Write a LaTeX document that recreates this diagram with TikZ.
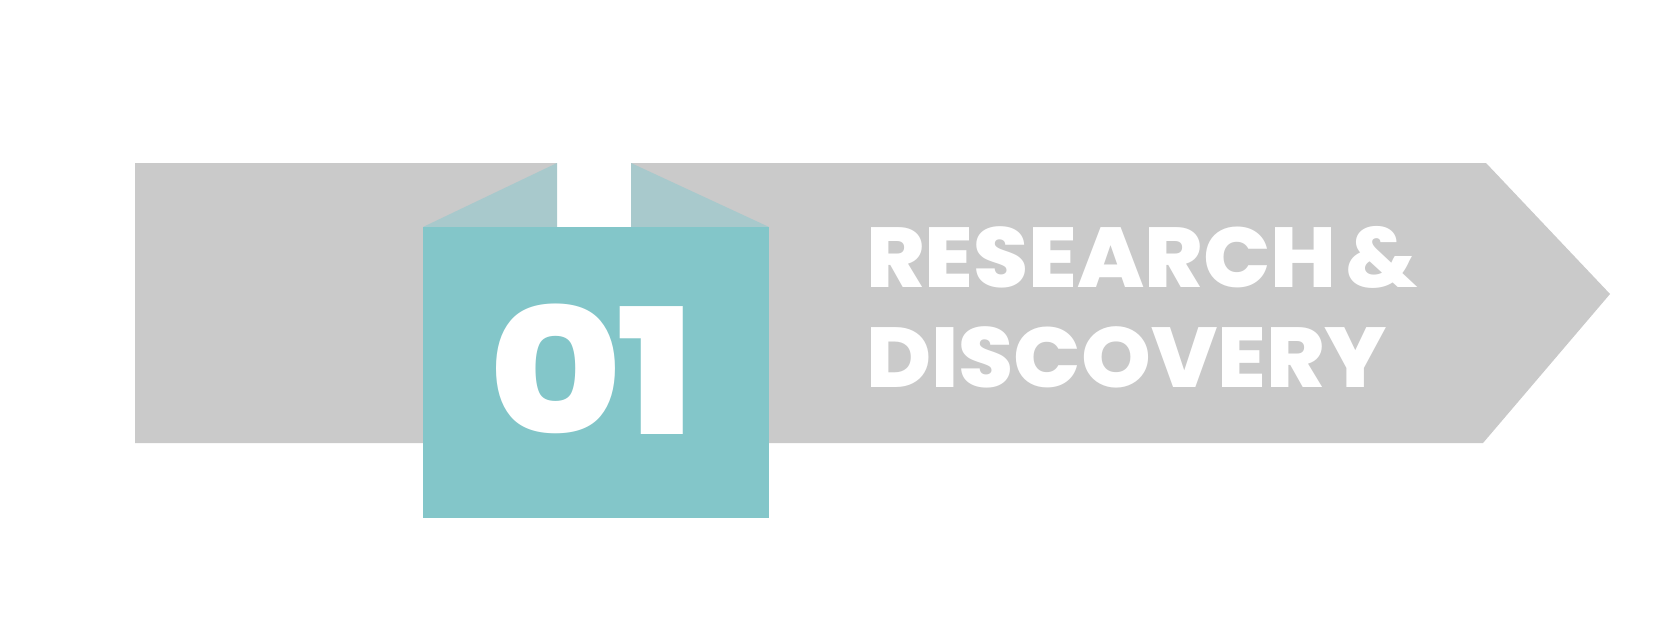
\documentclass[tikz,border=0pt]{standalone}
\usepackage{fontspec}
\setmainfont{Poppins}
\newfontfamily\heavy{Poppins}[UprightFont={* ExtraBold},FakeStretch=1.045]
\newfontfamily\heavynum{Poppins}[UprightFont={* ExtraBold},FakeStretch=1.17]
\definecolor{bandgray}{HTML}{CACACA}
\definecolor{boxteal}{HTML}{83C6C9}
\definecolor{foldteal}{HTML}{A8C9CC}
\begin{document}
\begin{tikzpicture}[x=1pt,y=-1pt,
  label/.style={inner sep=0pt,text=white,font=\fontsize{85}{85}\selectfont\heavy},
  number/.style={inner sep=0pt,text=white,font=\fontsize{175}{175}\selectfont\heavynum}]
\useasboundingbox (0,0) rectangle (1655,627);
\fill[white] (0,0) rectangle (1655,627);
% grey arrow band
\fill[bandgray] (135,163) -- (1486,163) -- (1610,294) -- (1483,443) -- (135,443) -- cycle;
% white notch
\fill[white] (557,163) rectangle (631,227);
% folds
\fill[foldteal] (423,227) -- (557,163) -- (557,227) -- cycle;
\fill[foldteal] (631,163) -- (769,227) -- (631,227) -- cycle;
% teal box
\fill[boxteal] (423,227) rectangle (769,518);
% texts
\node[number,anchor=base] (num) at (592,434) {0\kern-6pt 1};
\node[label,anchor=base west] (line1) at (866,287) {RESEARCH \kern-8pt\&};
\node[label,anchor=base west] (line2) at (866,387) {DISCOVERY};
\end{tikzpicture}
\end{document}
